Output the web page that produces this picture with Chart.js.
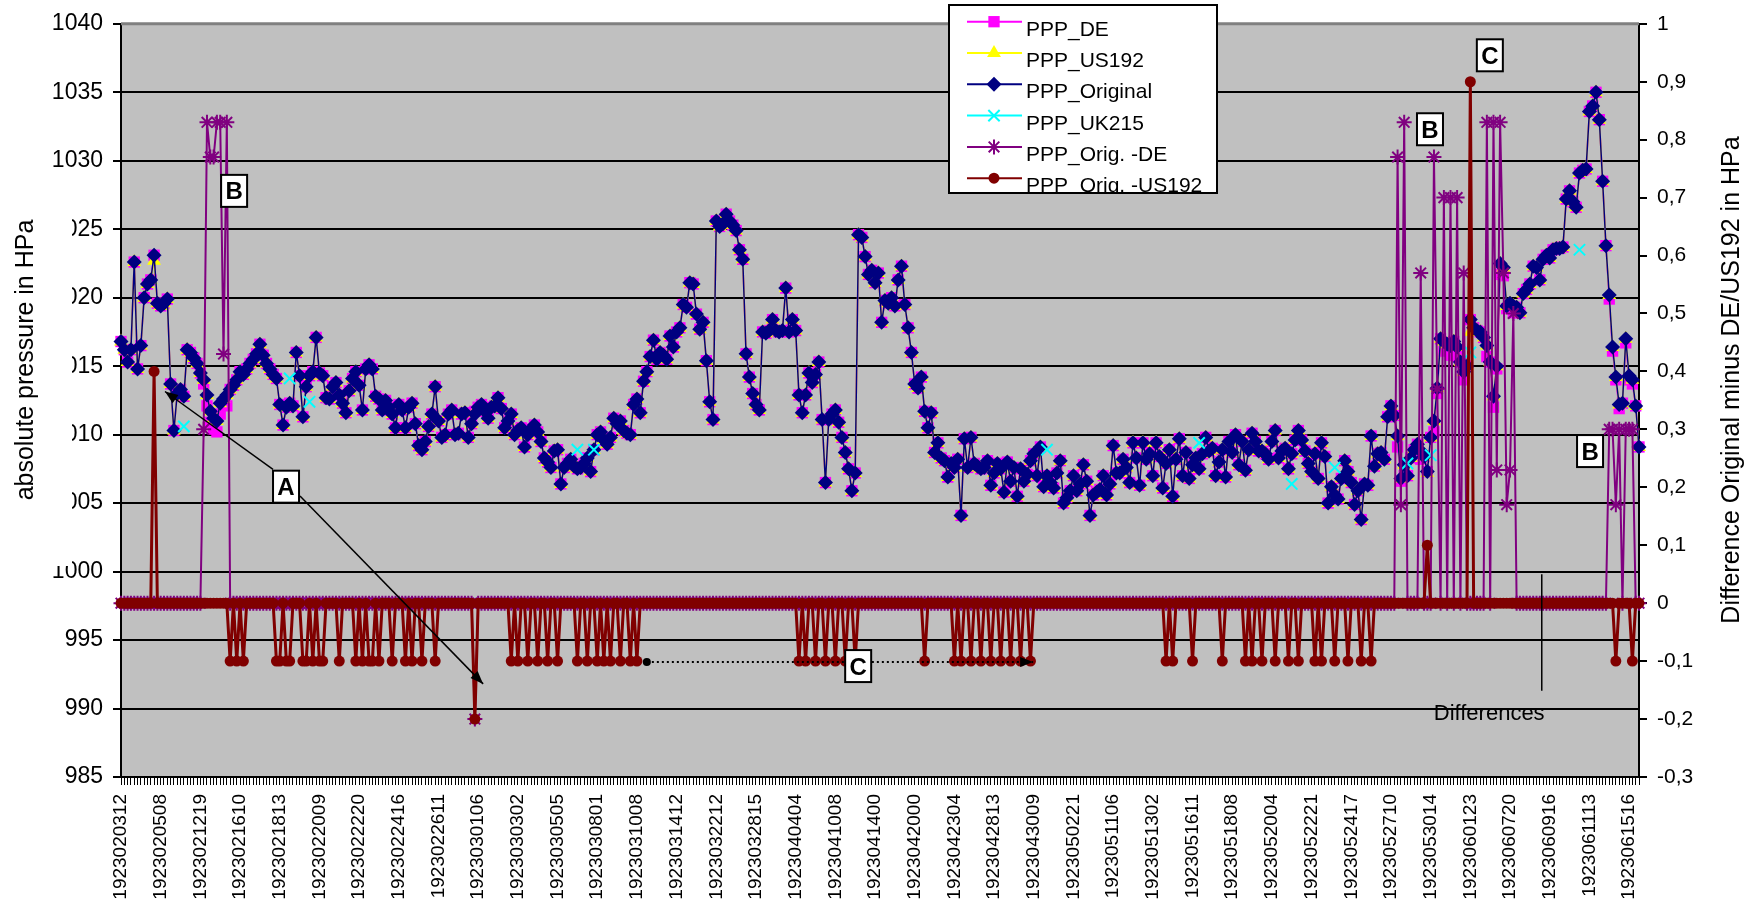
<!DOCTYPE html>
<html>
<head>
<meta charset="utf-8">
<script src="https://cdn.jsdelivr.net/npm/chart.js@4.4.1/dist/chart.umd.min.js"></script>
<style>
  html, body { margin: 0; padding: 0; background: #fff; }
  #wrap { width: 1756px; height: 909px; }
</style>
</head>
<body>
<div id="wrap"><canvas id="pppChart" width="1756" height="909"></canvas></div>
<script>
// tick labels shown under the axis (every 12th observation)
const tickLabels = [
  '1923020312','1923020508','1923021219','1923021610','1923021813','1923022009','1923022220','1923022416',
  '1923022611','1923030106','1923030302','1923030505','1923030801','1923031008','1923031412','1923032212',
  '1923032815','1923040404','1923041008','1923041400','1923042000','1923042304','1923042813','1923043009',
  '1923050221','1923051106','1923051302','1923051611','1923051808','1923052004','1923052221','1923052417',
  '1923052710','1923053014','1923060123','1923060720','1923060916','1923061113','1923061516'
];

// absolute pressure, hPa
const pppOriginal = [
  1016.8,1016.2,1015.3,1016.2,1022.6,1014.8,1016.5,1020.0,1021.0,1021.3,
  1023.1,1019.6,1019.4,1019.6,1019.9,1013.7,1010.3,1013.0,1013.3,1012.8,
  1016.2,1016.0,1015.6,1015.2,1014.5,1014.0,1012.9,1011.7,1011.2,1011.0,
  1012.3,1012.6,1012.9,1013.3,1013.6,1014.0,1014.6,1014.4,1014.8,1015.2,
  1015.5,1015.9,1016.6,1015.8,1015.2,1014.8,1014.4,1014.1,1012.2,1010.7,
  1012.0,1012.3,1012.1,1016.0,1014.3,1011.3,1013.5,1014.3,1014.6,1017.1,
  1014.5,1014.3,1012.7,1012.6,1013.5,1013.8,1012.9,1012.3,1011.6,1013.2,
  1014.1,1014.6,1013.6,1011.8,1014.8,1015.1,1014.8,1012.8,1012.6,1011.8,
  1012.5,1012.0,1011.5,1010.5,1012.2,1011.8,1010.5,1012.0,1012.3,1010.8,
  1009.2,1008.9,1009.5,1010.6,1011.5,1013.5,1011.0,1009.8,1010.0,1011.5,
  1011.8,1010.0,1010.1,1011.5,1011.6,1009.8,1010.8,1011.5,1012.0,1012.2,
  1011.7,1011.2,1012.0,1012.1,1012.7,1011.9,1010.5,1011.0,1011.5,1010.0,
  1010.3,1010.5,1009.1,1010.0,1010.4,1010.7,1010.2,1009.5,1008.3,1008.0,
  1007.6,1008.8,1008.9,1006.4,1007.6,1007.9,1008.2,1007.7,1007.5,1007.6,
  1007.9,1008.3,1007.3,1008.9,1010.0,1010.2,1009.6,1009.3,1009.8,1011.2,
  1010.8,1011.0,1010.3,1010.1,1010.0,1012.2,1012.6,1011.6,1013.9,1014.6,
  1015.7,1016.9,1015.5,1016.0,1015.8,1015.5,1017.2,1016.4,1017.5,1017.8,
  1019.5,1019.3,1021.1,1021.0,1018.8,1017.7,1018.2,1015.4,1012.4,1011.1,
  1025.6,1025.2,1025.4,1026.1,1025.6,1025.3,1024.9,1023.5,1022.8,1015.9,
  1014.2,1013.0,1012.2,1011.8,1017.5,1017.4,1017.6,1018.4,1017.6,1017.5,
  1017.6,1020.7,1017.5,1018.4,1017.6,1012.9,1011.6,1012.9,1014.5,1013.8,
  1014.4,1015.3,1011.1,1006.5,1011.1,1011.5,1011.8,1010.9,1009.8,1008.7,
  1007.5,1005.9,1007.2,1024.6,1024.4,1023.0,1021.7,1022.0,1021.1,1021.8,
  1018.2,1019.8,1019.6,1020.0,1019.4,1021.3,1022.3,1019.5,1017.8,1016.0,
  1013.7,1013.4,1014.2,1011.7,1010.5,1011.6,1008.7,1009.4,1008.3,1008.1,
  1006.9,1007.9,1007.6,1008.2,1004.1,1009.7,1007.6,1009.8,1007.9,1007.7,
  1007.5,1007.6,1008.1,1006.3,1007.2,1007.9,1007.5,1005.8,1008.0,1006.6,
  1007.6,1005.5,1007.5,1006.6,1007.1,1008.1,1008.6,1007.0,1009.1,1006.2,
  1007.0,1006.5,1006.1,1007.2,1008.1,1005.0,1005.4,1005.9,1007.0,1005.9,
  1006.4,1007.8,1006.6,1004.1,1005.6,1005.8,1006.0,1007.0,1005.6,1006.4,
  1009.2,1007.2,1007.2,1008.2,1007.6,1006.5,1009.4,1008.3,1006.3,1009.4,
  1008.2,1008.6,1007.0,1009.4,1008.4,1006.1,1007.9,1008.9,1005.5,1008.2,
  1009.7,1007.0,1008.7,1006.8,1007.8,1008.3,1007.5,1008.6,1009.8,1008.8,
  1009.0,1007.0,1008.0,1008.9,1006.9,1009.5,1008.7,1010.0,1007.8,1009.5,
  1007.4,1008.9,1010.1,1009.5,1008.8,1008.8,1008.6,1008.2,1009.5,1010.3,
  1008.3,1008.8,1009.0,1007.5,1008.6,1009.6,1010.3,1009.6,1008.8,1007.9,
  1007.3,1008.6,1006.8,1009.4,1008.4,1005.0,1006.2,1005.6,1005.3,1006.8,
  1008.1,1007.3,1006.5,1004.9,1005.9,1003.8,1006.4,1006.3,1009.9,1007.7,
  1008.6,1008.7,1008.2,1011.3,1012.1,1011.4,1009.9,1006.8,1007.8,1007.0,
  1008.3,1008.9,1009.3,1008.8,1008.4,1007.3,1009.8,1011.0,1013.4,1017.0,
  1016.8,1016.6,1016.5,1016.8,1016.4,1015.3,1014.6,1015.0,1018.4,1017.8,
  1017.6,1017.5,1017.1,1016.5,1015.3,1012.8,1015.0,1022.5,1022.2,1019.4,
  1019.6,1019.4,1019.3,1018.9,1020.3,1020.6,1021.0,1022.3,1022.2,1021.3,
  1022.8,1023.1,1022.9,1023.5,1023.6,1023.6,1023.7,1027.2,1027.8,1027.0,
  1026.6,1029.1,1029.3,1029.4,1033.6,1034.0,1035.0,1033.0,1028.5,1023.8,
  1020.2,1016.4,1014.2,1012.2,1012.3,1017.0,1014.3,1014.0,1012.1,1009.1
];

const pppDE = [
  1016.8,1016.2,1015.3,1016.2,1022.6,1014.8,1016.5,1020.0,1021.0,1021.3,
  1023.1,1019.6,1019.4,1019.6,1019.9,1013.7,1010.3,1013.0,1013.3,1012.8,
  1016.2,1016.0,1015.6,1015.2,1014.5,1013.7,1012.1,1010.9,1010.4,1010.2,
  1011.5,1012.2,1012.1,1013.3,1013.6,1014.0,1014.6,1014.4,1014.8,1015.2,
  1015.5,1015.9,1016.6,1015.8,1015.2,1014.8,1014.4,1014.1,1012.2,1010.7,
  1012.0,1012.3,1012.1,1016.0,1014.3,1011.3,1013.5,1014.3,1014.6,1017.1,
  1014.5,1014.3,1012.7,1012.6,1013.5,1013.8,1012.9,1012.3,1011.6,1013.2,
  1014.1,1014.6,1013.6,1011.8,1014.8,1015.1,1014.8,1012.8,1012.6,1011.8,
  1012.5,1012.0,1011.5,1010.5,1012.2,1011.8,1010.5,1012.0,1012.3,1010.8,
  1009.2,1008.9,1009.5,1010.6,1011.5,1013.5,1011.0,1009.8,1010.0,1011.5,
  1011.8,1010.0,1010.1,1011.5,1011.6,1009.8,1010.8,1011.7,1012.0,1012.2,
  1011.7,1011.2,1012.0,1012.1,1012.7,1011.9,1010.5,1011.0,1011.5,1010.0,
  1010.3,1010.5,1009.1,1010.0,1010.4,1010.7,1010.2,1009.5,1008.3,1008.0,
  1007.6,1008.8,1008.9,1006.4,1007.6,1007.9,1008.2,1007.7,1007.5,1007.6,
  1007.9,1008.3,1007.3,1008.9,1010.0,1010.2,1009.6,1009.3,1009.8,1011.2,
  1010.8,1011.0,1010.3,1010.1,1010.0,1012.2,1012.6,1011.6,1013.9,1014.6,
  1015.7,1016.9,1015.5,1016.0,1015.8,1015.5,1017.2,1016.4,1017.5,1017.8,
  1019.5,1019.3,1021.1,1021.0,1018.8,1017.7,1018.2,1015.4,1012.4,1011.1,
  1025.6,1025.2,1025.4,1026.1,1025.6,1025.3,1024.9,1023.5,1022.8,1015.9,
  1014.2,1013.0,1012.2,1011.8,1017.5,1017.4,1017.6,1018.4,1017.6,1017.5,
  1017.6,1020.7,1017.5,1018.4,1017.6,1012.9,1011.6,1012.9,1014.5,1013.8,
  1014.4,1015.3,1011.1,1006.5,1011.1,1011.5,1011.8,1010.9,1009.8,1008.7,
  1007.5,1005.9,1007.2,1024.6,1024.4,1023.0,1021.7,1022.0,1021.1,1021.8,
  1018.2,1019.8,1019.6,1020.0,1019.4,1021.3,1022.3,1019.5,1017.8,1016.0,
  1013.7,1013.4,1014.2,1011.7,1010.5,1011.6,1008.7,1009.4,1008.3,1008.1,
  1006.9,1007.9,1007.6,1008.2,1004.1,1009.7,1007.6,1009.8,1007.9,1007.7,
  1007.5,1007.6,1008.1,1006.3,1007.2,1007.9,1007.5,1005.8,1008.0,1006.6,
  1007.6,1005.5,1007.5,1006.6,1007.1,1008.1,1008.6,1007.0,1009.1,1006.2,
  1007.0,1006.5,1006.1,1007.2,1008.1,1005.0,1005.4,1005.9,1007.0,1005.9,
  1006.4,1007.8,1006.6,1004.1,1005.6,1005.8,1006.0,1007.0,1005.6,1006.4,
  1009.2,1007.2,1007.2,1008.2,1007.6,1006.5,1009.4,1008.3,1006.3,1009.4,
  1008.2,1008.6,1007.0,1009.4,1008.4,1006.1,1007.9,1008.9,1005.5,1008.2,
  1009.7,1007.0,1008.7,1006.8,1007.8,1008.3,1007.5,1008.6,1009.8,1008.8,
  1009.0,1007.0,1008.0,1008.9,1006.9,1009.5,1008.7,1010.0,1007.8,1009.5,
  1007.4,1008.9,1010.1,1009.5,1008.8,1008.8,1008.6,1008.2,1009.5,1010.3,
  1008.3,1008.8,1009.0,1007.5,1008.6,1009.6,1010.3,1009.6,1008.8,1007.9,
  1007.3,1008.6,1006.8,1009.4,1008.4,1005.0,1006.2,1005.6,1005.3,1006.8,
  1008.1,1007.3,1006.5,1004.9,1005.9,1003.8,1006.4,1006.3,1009.9,1007.7,
  1008.6,1008.7,1008.2,1011.3,1012.1,1011.4,1009.1,1006.6,1007.0,1007.0,
  1008.3,1008.9,1009.3,1008.2,1008.4,1007.3,1009.8,1010.2,1013.0,1017.0,
  1016.1,1016.6,1015.8,1016.8,1015.7,1015.3,1014.0,1015.0,1018.4,1017.8,
  1017.6,1017.5,1017.1,1015.7,1015.3,1012.0,1014.8,1021.7,1021.6,1019.2,
  1019.4,1018.9,1019.3,1018.9,1020.3,1020.6,1021.0,1022.3,1022.2,1021.3,
  1022.8,1023.1,1022.9,1023.5,1023.6,1023.6,1023.7,1027.2,1027.8,1027.0,
  1026.6,1029.1,1029.3,1029.4,1033.6,1034.0,1035.0,1033.0,1028.5,1023.8,
  1019.9,1016.1,1014.0,1011.9,1012.3,1016.7,1014.0,1013.7,1012.1,1009.1
];

const pppUS192 = [
  1016.8,1016.2,1015.3,1016.2,1022.6,1014.8,1016.5,1020.0,1021.0,1021.3,
  1022.7,1019.6,1019.4,1019.6,1019.9,1013.7,1010.3,1013.0,1013.3,1012.8,
  1016.2,1016.0,1015.6,1015.2,1014.5,1014.0,1012.9,1011.7,1011.2,1011.0,
  1012.3,1012.6,1012.9,1013.3,1013.6,1014.0,1014.6,1014.4,1014.8,1015.2,
  1015.5,1015.9,1016.6,1015.8,1015.2,1014.8,1014.4,1014.1,1012.2,1010.7,
  1012.0,1012.3,1012.1,1016.0,1014.3,1011.3,1013.5,1014.3,1014.6,1017.1,
  1014.5,1014.3,1012.7,1012.6,1013.5,1013.8,1012.9,1012.3,1011.6,1013.2,
  1014.1,1014.6,1013.6,1011.8,1014.8,1015.1,1014.8,1012.8,1012.6,1011.8,
  1012.5,1012.0,1011.5,1010.5,1012.2,1011.8,1010.5,1012.0,1012.3,1010.8,
  1009.2,1008.9,1009.5,1010.6,1011.5,1013.5,1011.0,1009.8,1010.0,1011.5,
  1011.8,1010.0,1010.1,1011.5,1011.6,1009.8,1010.8,1011.7,1012.0,1012.2,
  1011.7,1011.2,1012.0,1012.1,1012.7,1011.9,1010.5,1011.0,1011.5,1010.0,
  1010.3,1010.5,1009.1,1010.0,1010.4,1010.7,1010.2,1009.5,1008.3,1008.0,
  1007.6,1008.8,1008.9,1006.4,1007.6,1007.9,1008.2,1007.7,1007.5,1007.6,
  1007.9,1008.3,1007.3,1008.9,1010.0,1010.2,1009.6,1009.3,1009.8,1011.2,
  1010.8,1011.0,1010.3,1010.1,1010.0,1012.2,1012.6,1011.6,1013.9,1014.6,
  1015.7,1016.9,1015.5,1016.0,1015.8,1015.5,1017.2,1016.4,1017.5,1017.8,
  1019.5,1019.3,1021.1,1021.0,1018.8,1017.7,1018.2,1015.4,1012.4,1011.1,
  1025.6,1025.2,1025.4,1026.1,1025.6,1025.3,1024.9,1023.5,1022.8,1015.9,
  1014.2,1013.0,1012.2,1011.8,1017.5,1017.4,1017.6,1018.4,1017.6,1017.5,
  1017.6,1020.7,1017.5,1018.4,1017.6,1012.9,1011.6,1012.9,1014.5,1013.8,
  1014.4,1015.3,1011.1,1006.5,1011.1,1011.5,1011.8,1010.9,1009.8,1008.7,
  1007.5,1005.9,1007.2,1024.6,1024.4,1023.0,1021.7,1022.0,1021.1,1021.8,
  1018.2,1019.8,1019.6,1020.0,1019.4,1021.3,1022.3,1019.5,1017.8,1016.0,
  1013.7,1013.4,1014.2,1011.7,1010.5,1011.6,1008.7,1009.4,1008.3,1008.1,
  1006.9,1007.9,1007.6,1008.2,1004.1,1009.7,1007.6,1009.8,1007.9,1007.7,
  1007.5,1007.6,1008.1,1006.3,1007.2,1007.9,1007.5,1005.8,1008.0,1006.6,
  1007.6,1005.5,1007.5,1006.6,1007.1,1008.1,1008.6,1007.0,1009.1,1006.2,
  1007.0,1006.5,1006.1,1007.2,1008.1,1005.0,1005.4,1005.9,1007.0,1005.9,
  1006.4,1007.8,1006.6,1004.1,1005.6,1005.8,1006.0,1007.0,1005.6,1006.4,
  1009.2,1007.2,1007.2,1008.2,1007.6,1006.5,1009.4,1008.3,1006.3,1009.4,
  1008.2,1008.6,1007.0,1009.4,1008.4,1006.1,1007.9,1008.9,1005.5,1008.2,
  1009.7,1007.0,1008.7,1006.8,1007.8,1008.3,1007.5,1008.6,1009.8,1008.8,
  1009.0,1007.0,1008.0,1008.9,1006.9,1009.5,1008.7,1010.0,1007.8,1009.5,
  1007.4,1008.9,1010.1,1009.5,1008.8,1008.8,1008.6,1008.2,1009.5,1010.3,
  1008.3,1008.8,1009.0,1007.5,1008.6,1009.6,1010.3,1009.6,1008.8,1007.9,
  1007.3,1008.6,1006.8,1009.4,1008.4,1005.0,1006.2,1005.6,1005.3,1006.8,
  1008.1,1007.3,1006.5,1004.9,1005.9,1003.8,1006.4,1006.3,1009.9,1007.7,
  1008.6,1008.7,1008.2,1011.3,1012.1,1011.4,1009.9,1006.8,1007.8,1007.0,
  1008.3,1008.9,1009.3,1008.8,1008.4,1007.2,1009.8,1011.0,1013.4,1017.0,
  1016.8,1016.6,1016.5,1016.8,1016.4,1015.3,1014.6,1015.0,1017.5,1017.8,
  1017.6,1017.5,1017.1,1016.5,1015.3,1012.8,1015.0,1022.5,1022.2,1019.4,
  1019.6,1019.4,1019.3,1018.9,1020.3,1020.6,1021.0,1022.3,1022.2,1021.3,
  1022.8,1023.1,1022.9,1023.5,1023.6,1023.6,1023.7,1027.2,1027.8,1027.0,
  1026.6,1029.1,1029.3,1029.4,1033.6,1034.0,1035.0,1033.0,1028.5,1023.8,
  1020.2,1016.4,1014.2,1012.2,1012.3,1017.0,1014.3,1014.0,1012.1,1009.1
];

// UK215 only has a few readings: observation index and value
const ukIndex  = [19, 51, 57, 138, 143, 280, 326, 354, 367, 389, 396, 408, 441];
const ukValues = [1010.6, 1014.1, 1012.4, 1008.9, 1008.9, 1008.9, 1009.4, 1006.4, 1007.6, 1007.9, 1008.5, 1016.0, 1023.5];

// differences, hPa (right axis)
const diffOrigDE = [
  0,0,0,0,0,0,0,0,0,0, 0,0,0,0,0,0,0,0,0,0,
  0,0,0,0,0,0.30,0.83,0.77,0.77,0.83, 0.83,0.43,0.83,0,0,0,0,0,0,0,
  0,0,0,0,0,0,0,0,0,0, 0,0,0,0,0,0,0,0,0,0,
  0,0,0,0,0,0,0,0,0,0, 0,0,0,0,0,0,0,0,0,0,
  0,0,0,0,0,0,0,0,0,0, 0,0,0,0,0,0,0,0,0,0,
  0,0,0,0,0,0,0,-0.2,0,0, 0,0,0,0,0,0,0,0,0,0,
  0,0,0,0,0,0,0,0,0,0, 0,0,0,0,0,0,0,0,0,0,
  0,0,0,0,0,0,0,0,0,0, 0,0,0,0,0,0,0,0,0,0,
  0,0,0,0,0,0,0,0,0,0, 0,0,0,0,0,0,0,0,0,0,
  0,0,0,0,0,0,0,0,0,0, 0,0,0,0,0,0,0,0,0,0,
  0,0,0,0,0,0,0,0,0,0, 0,0,0,0,0,0,0,0,0,0,
  0,0,0,0,0,0,0,0,0,0, 0,0,0,0,0,0,0,0,0,0,
  0,0,0,0,0,0,0,0,0,0, 0,0,0,0,0,0,0,0,0,0,
  0,0,0,0,0,0,0,0,0,0, 0,0,0,0,0,0,0,0,0,0,
  0,0,0,0,0,0,0,0,0,0, 0,0,0,0,0,0,0,0,0,0,
  0,0,0,0,0,0,0,0,0,0, 0,0,0,0,0,0,0,0,0,0,
  0,0,0,0,0,0,0,0,0,0, 0,0,0,0,0,0,0,0,0,0,
  0,0,0,0,0,0,0,0,0,0, 0,0,0,0,0,0,0,0,0,0,
  0,0,0,0,0,0,0,0,0,0, 0,0,0,0,0,0,0,0,0,0,
  0,0,0,0,0,0,0.77,0.17,0.83,0, 0,0,0,0.57,0,0,0,0.77,0.37,0,
  0.70,0,0.70,0,0.70,0,0.57,0,0,0, 0,0,0,0.83,0,0.83,0.23,0.83,0.57,0.17,
  0.23,0.50,0,0,0,0,0,0,0,0, 0,0,0,0,0,0,0,0,0,0,
  0,0,0,0,0,0,0,0,0,0, 0.30,0.30,0.17,0.30,0,0.30,0.30,0.30,0,0
];

const diffOrigUS = [
  0,0,0,0,0,0,0,0,0,0, 0.40,0,0,0,0,0,0,0,0,0,
  0,0,0,0,0,0,0,0,0,0, 0,0,0,-0.1,0,-0.1,0,-0.1,0,0,
  0,0,0,0,0,0,0,-0.1,-0.1,0, -0.1,-0.1,0,0,0,-0.1,-0.1,0,-0.1,0,
  -0.1,-0.1,0,0,0,0,-0.1,0,0,0, 0,-0.1,0,-0.1,0,-0.1,-0.1,0,-0.1,0,
  0,0,-0.1,0,0,0,-0.1,0,-0.1,0, 0,-0.1,0,0,0,-0.1,0,0,0,0,
  0,0,0,0,0,0,0,-0.2,0,0, 0,0,0,0,0,0,0,0,-0.1,0,
  -0.1,0,0,-0.1,0,0,-0.1,0,0,-0.1, 0,0,-0.1,0,0,0,0,0,-0.1,0,
  0,-0.1,0,0,-0.1,0,-0.1,0,-0.1,0, 0,-0.1,0,0,-0.1,0,-0.1,0,0,0,
  0,0,0,0,0,0,0,0,0,0, 0,0,0,0,0,0,0,0,0,0,
  0,0,0,0,0,0,0,0,0,0, 0,0,0,0,0,0,0,0,0,0,
  0,0,0,0,0,-0.1,0,-0.1,0,0, -0.1,0,0,-0.1,0,0,-0.1,0,0,-0.1,
  0,0,-0.1,0,0,0,0,0,0,0, 0,0,0,0,0,0,0,0,0,0,
  0,0,0,-0.1,0,0,0,0,0,0, 0,0,-0.1,0,-0.1,0,0,-0.1,0,0,
  -0.1,0,0,-0.1,0,0,-0.1,0,0,-0.1, 0,0,-0.1,0,0,-0.1,0,0,0,0,
  0,0,0,0,0,0,0,0,0,0, 0,0,0,0,0,0,0,0,0,0,
  0,0,0,0,0,0,0,0,0,0, 0,0,0,0,0,0,-0.1,0,-0.1,0,
  0,0,0,0,-0.1,0,0,0,0,0, 0,0,0,-0.1,0,0,0,0,0,0,
  -0.1,0,-0.1,0,0,-0.1,0,0,0,-0.1, 0,0,0,-0.1,0,0,-0.1,0,0,0,
  0,-0.1,0,-0.1,0,0,0,-0.1,0,0, 0,-0.1,0,0,0,-0.1,0,0,-0.1,0,
  0,0,0,0,0,0,0,0,0,0, 0,0,0,0,0,0.10,0,0,0,0,
  0,0,0,0,0,0,0,0,0.90,0, 0,0,0,0,0,0,0,0,0,0,
  0,0,0,0,0,0,0,0,0,0, 0,0,0,0,0,0,0,0,0,0,
  0,0,0,0,0,0,0,0,0,0, 0,0,-0.1,0,0,0,0,-0.1,0,0
];

// category list: one entry per observation, labelled every 12th
const categories = pppOriginal.map((_, i) => (i % 12 === 0 ? tickLabels[i / 12] : ''));
const ukSeries = categories.map(() => null);
ukIndex.forEach((idx, k) => { ukSeries[idx] = ukValues[k]; });

// annotation boxes / arrows, placed in data units (x = observation index, y = hPa)
const noteBoxes = [
  { text: 'B', x: 34.2, y: 1027.8 },
  { text: 'A', x: 49.9, y: 1006.2 },
  { text: 'B', x: 395.8, y: 1032.3 },
  { text: 'C', x: 413.9, y: 1037.7 },
  { text: 'B', x: 444.2, y: 1008.8 },
  { text: 'C', x: 222.9, y: 993.1 }
];
const noteLines = [
  { from: [45.96, 1007.46], to: [13.3, 1013.15], arrow: true },
  { from: [54.13, 1005.52], to: [109.5, 991.8], arrow: true },
  { from: [159.0, 993.4], to: [275.8, 993.4], arrow: true, dotted: true, startDot: true },
  { from: [429.6, 999.8], to: [429.6, 991.3] }
];
const noteTexts = [ { text: 'Differences', x: 413.7, y: 989.6 } ];

const FONT = '"Liberation Sans", Arial, Helvetica, sans-serif';

function marker(ctx, style, x, y, r, color, lw) {
  ctx.save();
  ctx.fillStyle = color;
  ctx.strokeStyle = color;
  ctx.lineWidth = lw;
  ctx.beginPath();
  if (style === 'rect') {
    const s = r * Math.SQRT1_2;
    ctx.rect(x - s, y - s, 2 * s, 2 * s);
    ctx.fill();
  } else if (style === 'triangle') {
    ctx.moveTo(x, y - r);
    ctx.lineTo(x + r * 0.866, y + r * 0.5);
    ctx.lineTo(x - r * 0.866, y + r * 0.5);
    ctx.closePath();
    ctx.fill();
  } else if (style === 'rectRot') {
    ctx.moveTo(x - r, y); ctx.lineTo(x, y - r); ctx.lineTo(x + r, y); ctx.lineTo(x, y + r);
    ctx.closePath();
    ctx.fill();
  } else if (style === 'crossRot' || style === 'star') {
    const d = r * Math.SQRT1_2;
    ctx.moveTo(x - d, y - d); ctx.lineTo(x + d, y + d);
    ctx.moveTo(x - d, y + d); ctx.lineTo(x + d, y - d);
    if (style === 'star') {
      ctx.moveTo(x, y - r); ctx.lineTo(x, y + r);
      ctx.moveTo(x - r, y); ctx.lineTo(x + r, y);
    }
    ctx.stroke();
  } else {
    ctx.arc(x, y, r, 0, Math.PI * 2);
    ctx.fill();
  }
  ctx.restore();
}

const plotFrame = {
  id: 'plotFrame',
  beforeDraw(chart) {
    const { ctx, chartArea: a } = chart;
    ctx.save();
    ctx.fillStyle = '#fff';
    ctx.fillRect(0, 0, chart.width, chart.height);
    ctx.fillStyle = '#C0C0C0';
    ctx.fillRect(a.left, a.top, a.right - a.left, a.bottom - a.top);
    ctx.restore();
  },
  beforeDatasetsDraw(chart) {
    const { ctx, chartArea: a } = chart;
    ctx.save();
    ctx.strokeStyle = '#808080';
    ctx.lineWidth = 3;
    ctx.beginPath();
    ctx.moveTo(a.left, a.top);
    ctx.lineTo(a.right, a.top);
    ctx.stroke();
    ctx.restore();
  }
};

const boxLegend = {
  id: 'boxLegend',
  afterDatasetsDraw(chart) {
    const { ctx, chartArea: a } = chart;
    const x0 = a.left + 828, y0 = 5, w = 268, h = 188;
    ctx.save();
    ctx.fillStyle = '#fff';
    ctx.fillRect(x0, y0, w, h);
    ctx.beginPath();
    ctx.rect(x0, y0, w, h);
    ctx.clip();
    chart.data.datasets.forEach((ds, k) => {
      const y = y0 + 16.7 + k * 31.3;
      ctx.strokeStyle = ds.borderColor;
      ctx.lineWidth = 2;
      ctx.beginPath();
      ctx.moveTo(x0 + 18, y);
      ctx.lineTo(x0 + 73, y);
      ctx.stroke();
      marker(ctx, ds.pointStyle, x0 + 45, y, ds.pointRadius, ds.borderColor, ds.pointBorderWidth || 1);
      ctx.fillStyle = '#000';
      ctx.font = '21px ' + FONT;
      ctx.textAlign = 'left';
      ctx.textBaseline = 'alphabetic';
      ctx.fillText(ds.label, x0 + 77, y + 14);
    });
    ctx.restore();
    ctx.save();
    ctx.strokeStyle = '#000';
    ctx.lineWidth = 2;
    ctx.strokeRect(x0, y0, w, h);
    ctx.restore();
  }
};

function arrowHead(ctx, x1, y1, x2, y2) {
  const ang = Math.atan2(y2 - y1, x2 - x1);
  const len = 13, half = 5;
  ctx.beginPath();
  ctx.moveTo(x2, y2);
  ctx.lineTo(x2 - len * Math.cos(ang) + half * Math.sin(ang), y2 - len * Math.sin(ang) - half * Math.cos(ang));
  ctx.lineTo(x2 - len * Math.cos(ang) - half * Math.sin(ang), y2 - len * Math.sin(ang) + half * Math.cos(ang));
  ctx.closePath();
  ctx.fill();
}

const notes = {
  id: 'notes',
  afterDraw(chart) {
    const { ctx } = chart;
    const sx = chart.scales.x, sy = chart.scales.y;
    const px = (v) => sx.getPixelForValue(v);
    const py = (v) => sy.getPixelForValue(v);
    ctx.save();
    ctx.strokeStyle = '#000';
    ctx.fillStyle = '#000';
    noteLines.forEach((l) => {
      const x1 = px(l.from[0]), y1 = py(l.from[1]), x2 = px(l.to[0]), y2 = py(l.to[1]);
      ctx.lineWidth = l.dotted ? 2 : 1.5;
      ctx.setLineDash(l.dotted ? [2, 3] : []);
      ctx.beginPath();
      ctx.moveTo(x1, y1);
      ctx.lineTo(x2, y2);
      ctx.stroke();
      ctx.setLineDash([]);
      if (l.arrow) arrowHead(ctx, x1, y1, x2, y2);
      if (l.startDot) { ctx.beginPath(); ctx.arc(x1, y1, 4, 0, Math.PI * 2); ctx.fill(); }
    });
    noteBoxes.forEach((b) => {
      const cx = px(b.x), cy = py(b.y);
      ctx.fillStyle = '#fff';
      ctx.fillRect(cx - 13, cy - 16, 26, 32);
      ctx.lineWidth = 2;
      ctx.strokeStyle = '#000';
      ctx.strokeRect(cx - 13, cy - 16, 26, 32);
      ctx.fillStyle = '#000';
      ctx.font = 'bold 24px ' + FONT;
      ctx.textAlign = 'center';
      ctx.textBaseline = 'middle';
      ctx.fillText(b.text, cx, cy + 2);
    });
    noteTexts.forEach((t) => {
      ctx.fillStyle = '#000';
      ctx.font = '22px ' + FONT;
      ctx.textAlign = 'center';
      ctx.textBaseline = 'middle';
      ctx.fillText(t.text, px(t.x), py(t.y));
    });
    ctx.restore();

    // axis titles (left one sits on a white box that hides part of the tick labels)
    ctx.save();
    ctx.fillStyle = '#fff';
    ctx.fillRect(0, 200, 72, 366);
    ctx.fillStyle = '#000';
    ctx.font = '25px ' + FONT;
    ctx.textAlign = 'center';
    ctx.textBaseline = 'alphabetic';
    ctx.translate(33, 360);
    ctx.rotate(-Math.PI / 2);
    ctx.fillText('absolute pressure in HPa', 0, 0);
    ctx.restore();
    ctx.save();
    ctx.fillStyle = '#000';
    ctx.font = '25px ' + FONT;
    ctx.textAlign = 'center';
    ctx.textBaseline = 'alphabetic';
    ctx.translate(1739, 380);
    ctx.rotate(-Math.PI / 2);
    ctx.fillText('Difference Original minus DE/US192 in HPa', 0, 0);
    ctx.restore();
  }
};

const ctx = document.getElementById('pppChart').getContext('2d');
const pppChart = new Chart(ctx, {
  type: 'line',
  data: {
    labels: categories,
    datasets: [
      { label: 'PPP_DE', data: pppDE, yAxisID: 'y', borderColor: '#FF00FF', backgroundColor: '#FF00FF',
        borderWidth: 1.5, pointStyle: 'rect', pointRadius: 8, pointBorderWidth: 0, order: 6 },
      { label: 'PPP_US192', data: pppUS192, yAxisID: 'y', borderColor: '#FFFF00', backgroundColor: '#FFFF00',
        borderWidth: 1.5, pointStyle: 'triangle', pointRadius: 8, pointBorderWidth: 0, order: 5 },
      { label: 'PPP_Original', data: pppOriginal, yAxisID: 'y', borderColor: '#000080', backgroundColor: '#000080',
        borderWidth: 1.5, pointStyle: 'rectRot', pointRadius: 7.5, pointBorderWidth: 0, order: 4 },
      { label: 'PPP_UK215', data: ukSeries, yAxisID: 'y', borderColor: '#00FFFF', backgroundColor: '#00FFFF',
        borderWidth: 2, showLine: false, pointStyle: 'crossRot', pointRadius: 8, pointBorderWidth: 2, order: 3 },
      { label: 'PPP_Orig. -DE', data: diffOrigDE, yAxisID: 'y2', borderColor: '#800080', backgroundColor: '#800080',
        borderWidth: 2, pointStyle: 'star', pointRadius: 7.5, pointBorderWidth: 2, order: 2 },
      { label: 'PPP_Orig. -US192', data: diffOrigUS, yAxisID: 'y2', borderColor: '#800000', backgroundColor: '#800000',
        borderWidth: 3, pointStyle: 'circle', pointRadius: 5.5, pointBorderWidth: 0, order: 1 }
    ]
  },
  options: {
    responsive: false,
    animation: false,
    devicePixelRatio: 1,
    layout: { padding: { top: 13, left: 0, right: 0, bottom: 0 } },
    elements: { line: { tension: 0 }, point: { hoverRadius: 6 } },
    datasets: { line: { clip: false, spanGaps: false } },
    plugins: { legend: { display: false }, tooltip: { enabled: false } },
    scales: {
      x: {
        type: 'category',
        offset: false,
        grid: { drawOnChartArea: false, drawTicks: true, tickLength: 8, color: '#000', lineWidth: 1 },
        border: { display: true, color: '#000', width: 2 },
        ticks: {
          autoSkip: false, maxRotation: 90, minRotation: 90, padding: 9, color: '#000',
          font: { family: FONT, size: 19 }
        },
        afterFit: (scale) => { scale.height = 132; }
      },
      y: {
        position: 'left',
        min: 985, max: 1040,
        grid: { color: '#000', lineWidth: 2, tickLength: 8, drawTicks: true },
        border: { display: true, color: '#000', width: 2 },
        ticks: {
          stepSize: 5, padding: 10, color: '#000', font: { family: FONT, size: 23 },
          callback: (v) => String(v)
        },
        afterFit: (scale) => { scale.width = 121; }
      },
      y2: {
        position: 'right',
        min: -0.3, max: 1,
        grid: { drawOnChartArea: false, color: '#000', lineWidth: 2, tickLength: 8 },
        border: { display: true, color: '#000', width: 2 },
        ticks: {
          stepSize: 0.1, padding: 10, color: '#000', font: { family: FONT, size: 21 },
          callback: (v) => {
            const r = Math.round(v * 10) / 10;
            return String(r).replace('.', ',');
          }
        },
        afterFit: (scale) => { scale.width = 117; }
      }
    }
  },
  plugins: [plotFrame, boxLegend, notes]
});
</script>
</body>
</html>
